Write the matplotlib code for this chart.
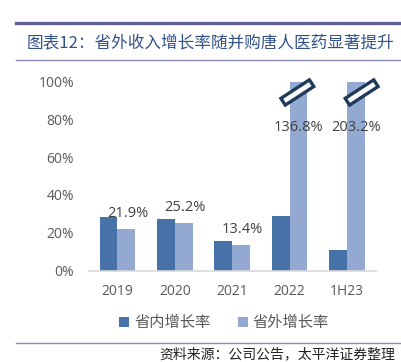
import matplotlib
matplotlib.use("Agg")
import matplotlib.pyplot as plt
from matplotlib.patches import Rectangle, Patch
from matplotlib.transforms import Affine2D
from matplotlib.lines import Line2D
import numpy as np

plt.rcParams['font.family'] = ['Noto Sans CJK SC', 'DejaVu Sans']

categories = ["2019", "2020", "2021", "2022", "1H23"]
inside_growth = [28.5, 27.3, 15.5, 29.0, 10.9]      # 省内增长率 (%)
outside_growth = [21.9, 25.2, 13.4, 136.8, 203.2]   # 省外增长率 (%)
yticks = [0, 20, 40, 60, 80, 100]
series_names = ["省内增长率", "省外增长率"]
title = "图表12：省外收入增长率随并购唐人医药显著提升"
source = "资料来源：公司公告，太平洋证券整理"

c_dark = "#4672A8"
c_light = "#93A9D2"
txt = "#595959"

W, H = 402, 362
fig = plt.figure(figsize=(W / 100, H / 100), dpi=100)
ax = fig.add_axes([88.7 / W, 1 - 270.5 / H, 287 / W, 188.8 / H])

x = np.arange(len(categories))
bw = 0.31
ax.bar(x - bw / 2, inside_growth, bw, color=c_dark, zorder=2)
ax.bar(x + bw / 2, outside_growth, bw, color=c_light, zorder=2)
ax.set_xlim(-0.5, len(categories) - 0.5)
ax.set_ylim(0, 100)

ax.set_yticks(yticks)
ax.set_yticklabels([f"{v}%" for v in yticks])
ax.set_xticks(x)
ax.set_xticklabels(categories)
ax.tick_params(axis='both', length=0, labelsize=10, labelcolor=txt)
ax.tick_params(axis='y', pad=10.5)
ax.tick_params(axis='x', pad=9.5)
for lab in ax.get_xticklabels() + ax.get_yticklabels():
    lab.set_family(['Open Sans', 'DejaVu Sans'])
for s in ['top', 'right', 'left']:
    ax.spines[s].set_visible(False)
ax.spines['bottom'].set_color('#D9D9D9')
ax.spines['bottom'].set_linewidth(1.2)

# value labels for 省外增长率
for i, v in enumerate(outside_growth):
    if v <= 100:
        ax.annotate(f"{v}%", (x[i] + bw / 2, v), xytext=(1, 6), textcoords='offset points',
                    ha='center', va='bottom', fontsize=10.5, color='#404040',
                    family=['Open Sans', 'DejaVu Sans'])
    else:
        ax.text(x[i] + bw / 2, 76, f"{v}%", ha='center', va='center', fontsize=10.5,
                color='#404040', family=['Open Sans', 'DejaVu Sans'])

# axis-break markers on the truncated bars (pixel-sized, rotated)
offs = {3: -0.02, 4: 0.1}
Lpx, tpx = 34, 8
for i, v in enumerate(outside_growth):
    if v > 100:
        cx, cy = ax.transData.transform((x[i] + bw / 2 + offs.get(i, 0), 94.3))
        tr = Affine2D().translate(-Lpx / 2, -tpx / 2).rotate_deg(33).translate(cx, cy)
        r = Rectangle((0, 0), Lpx, tpx, facecolor='white', edgecolor='#1F3B5C',
                      linewidth=2.4, transform=tr, clip_on=False, zorder=5)
        fig.add_artist(r)

# legend
handles = [Patch(facecolor=c_dark, edgecolor='none'), Patch(facecolor=c_light, edgecolor='none')]
fig.legend(handles, series_names, loc='center', bbox_to_anchor=(224 / W, 1 - 322.5 / H),
           ncol=2, frameon=False, fontsize=11, labelcolor=txt, handlelength=0.65,
           handleheight=0.65, handletextpad=0.3, columnspacing=1.8)

# title and rules
fig.add_artist(Line2D([16 / W, 1.0], [1 - 22.7 / H] * 2, color='#5E6197', linewidth=2.4))
fig.add_artist(Line2D([16 / W, 400 / W], [1 - 60 / H] * 2, color='#8A8CB8', linewidth=1.0))
fig.text(27 / W, 1 - 43 / H, title, ha='left', va='center', fontsize=12, color='#34528A')
fig.add_artist(Line2D([16 / W, 400 / W], [1 - 343.3 / H] * 2, color='#8A8CB8', linewidth=1.0))
fig.text(395 / W, 1 - 354 / H, source, ha='right', va='center', fontsize=10, color='#222222',
         style='italic')

fig.savefig("out.png", dpi=100)
